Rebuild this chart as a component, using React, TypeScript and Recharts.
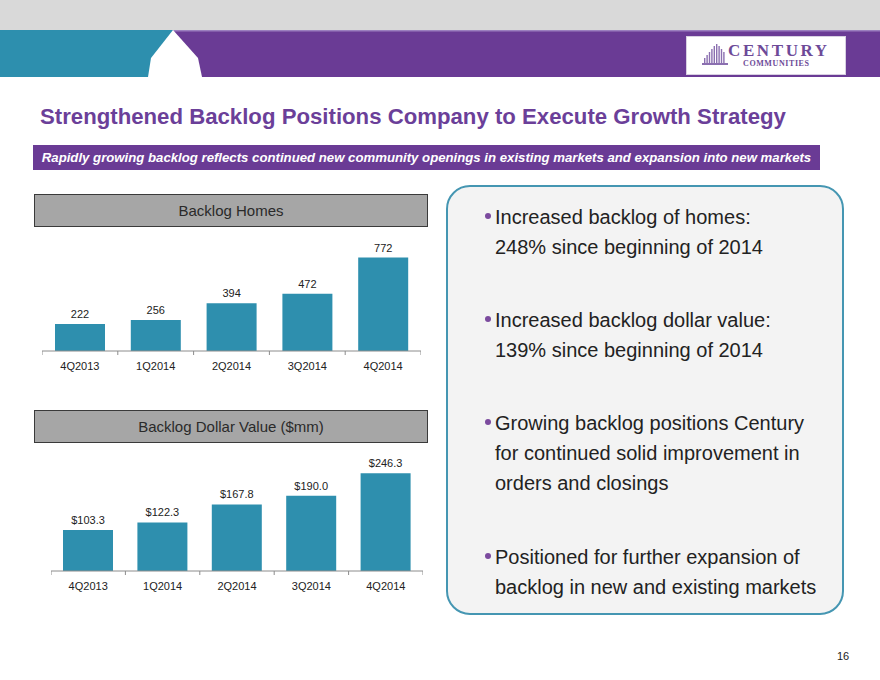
import React from "react";
import { BarChart, Bar, XAxis, YAxis, LabelList } from "recharts";

const quarters = ["4Q2013", "1Q2014", "2Q2014", "3Q2014", "4Q2014"];
const backlogHomes = [222, 256, 394, 472, 772];
const backlogDollars = [103.3, 122.3, 167.8, 190.0, 246.3];

const bullets = [
  ["Increased backlog of homes:", "248% since beginning of 2014"],
  ["Increased backlog dollar value:", "139% since beginning of 2014"],
  ["Growing backlog positions Century", "for continued solid improvement in", "orders and closings"],
  ["Positioned for further expansion of", "backlog in new and existing markets"],
];
const bulletTops = [202, 305, 408, 542];

const homesData = quarters.map((q, i) => ({ quarter: q, value: backlogHomes[i] }));
const dollarData = quarters.map((q, i) => ({ quarter: q, value: backlogDollars[i] }));

const PURPLE = "#6a3b95";
const TEAL = "#2e8fae";
const FONT = "'Liberation Sans', Arial, sans-serif";

// category axis with tick marks on the band edges instead of the centres
const EdgeTick = (props: any) => {
  const { x, y, payload, index, visibleTicksCount } = props;
  const half = payload.offset || 0;
  const last = index === visibleTicksCount - 1;
  return (
    <g>
      <line x1={x - half} x2={x - half} y1={y} y2={y + 4} stroke="#8c8c8c" />
      {last && <line x1={x + half} x2={x + half} y1={y} y2={y + 4} stroke="#8c8c8c" />}
      <text x={x} y={y + 19} textAnchor="middle" fontSize={11} fill="#222" fontFamily={FONT}>
        {payload.value}
      </text>
    </g>
  );
};

function HeaderBox({ top, label }: { top: number; label: string }) {
  return (
    <div
      style={{
        position: "absolute",
        left: 34,
        top,
        width: 392,
        height: 31,
        background: "#a6a6a6",
        border: "1.5px solid #3a3a3a",
        display: "flex",
        alignItems: "center",
        justifyContent: "center",
        fontSize: 15,
        color: "#2a2a2a",
      }}
    >
      {label}
    </div>
  );
}

function SmallBars({
  data,
  left,
  top,
  width,
  height,
  max,
  fmt,
}: {
  data: { quarter: string; value: number }[];
  left: number;
  top: number;
  width: number;
  height: number;
  max: number;
  fmt: (v: number) => string;
}) {
  return (
    <div style={{ position: "absolute", left, top }}>
      <BarChart width={width} height={height} data={data} margin={{ top: 12, right: 0, left: 0, bottom: 0 }}>
        <XAxis
          dataKey="quarter"
          height={30}
          tickSize={0}
          tickMargin={0}
          tickLine={false}
          axisLine={{ stroke: "#8c8c8c" }}
          tick={<EdgeTick />}
          interval={0}
        />
        <YAxis hide domain={[0, max]} />
        <Bar dataKey="value" fill={TEAL} barSize={50} isAnimationActive={false}>
          <LabelList
            dataKey="value"
            position="top"
            offset={6}
            formatter={(v: any) => fmt(Number(v))}
            style={{ fontSize: 11, fill: "#222", fontFamily: FONT }}
          />
        </Bar>
      </BarChart>
    </div>
  );
}

function Logo() {
  const bars = [6, 9, 12, 15, 18, 20, 18, 15, 12];
  return (
    <div
      style={{
        position: "absolute",
        left: 686,
        top: 36,
        width: 158,
        height: 37,
        background: "#fff",
        border: "1px solid #d8d0e2",
      }}
    >
      <svg width={26} height={22} style={{ position: "absolute", left: 15, top: 7 }}>
        {bars.map((h, i) => (
          <rect key={i} x={2 + i * 2.4} y={20 - h} width={1.4} height={h} fill="#8b6fb0" />
        ))}
        <rect x={0} y={19} width={26} height={2} fill="#8b6fb0" />
      </svg>
      <div
        style={{
          position: "absolute",
          left: 41,
          top: 4,
          fontFamily: "'Liberation Serif', 'DejaVu Serif', serif",
          fontWeight: 700,
          fontSize: 17,
          letterSpacing: 2.6,
          color: "#6d4a98",
        }}
      >
        CENTURY
      </div>
      <div
        style={{
          position: "absolute",
          left: 56,
          top: 22,
          fontFamily: "'Liberation Serif', 'DejaVu Serif', serif",
          fontWeight: 700,
          fontSize: 8,
          letterSpacing: 0.6,
          color: "#6d4a98",
        }}
      >
        COMMUNITIES
      </div>
    </div>
  );
}

export default function App() {
  return (
    <div
      style={{
        position: "absolute",
        left: 0,
        top: 0,
        width: 880,
        height: 680,
        background: "#fff",
        overflow: "hidden",
        fontFamily: FONT,
      }}
    >
      <svg width={880} height={80} style={{ position: "absolute", left: 0, top: 0 }}>
        <rect x={0} y={0} width={880} height={30} fill="#d9d9d9" />
        <rect x={0} y={30} width={880} height={47} fill={PURPLE} />
        <rect x={0} y={30} width={173} height={47} fill="#2d8fae" />
        <rect x={173} y={30} width={707} height={1.5} fill="#9b7fbf" />
        <polygon points="173,30 151,58 148,77 202,77 198,58" fill="#fff" />
      </svg>
      <Logo />

      <div
        style={{
          position: "absolute",
          left: 40,
          top: 104,
          fontSize: 22.2,
          fontWeight: 700,
          color: "#6b3f99",
          whiteSpace: "nowrap",
        }}
      >
        Strengthened Backlog Positions Company to Execute Growth Strategy
      </div>

      <div
        style={{
          position: "absolute",
          left: 33,
          top: 145,
          width: 787,
          height: 25,
          background: PURPLE,
          color: "#fff",
          fontStyle: "italic",
          fontWeight: 700,
          fontSize: 13.2,
          display: "flex",
          alignItems: "center",
          justifyContent: "center",
          whiteSpace: "nowrap",
        }}
      >
        Rapidly growing backlog reflects continued new community openings in existing markets and expansion into new markets
      </div>

      <HeaderBox top={194} label="Backlog Homes" />
      <SmallBars data={homesData} left={42} top={230} width={379} height={151} max={900} fmt={(v) => String(v)} />

      <HeaderBox top={410} label="Backlog Dollar Value ($mm)" />
      <SmallBars
        data={dollarData}
        left={51}
        top={440}
        width={372}
        height={161}
        max={300}
        fmt={(v) => `$${v.toFixed(1)}`}
      />

      <div
        style={{
          position: "absolute",
          left: 446,
          top: 185,
          width: 394,
          height: 426,
          background: "#f3f3f3",
          border: "2px solid #4596b2",
          borderRadius: 24,
        }}
      />
      {bullets.map((lines, i) => (
        <div key={i} style={{ position: "absolute", left: 495, top: bulletTops[i], fontSize: 20, lineHeight: "30px", color: "#222", whiteSpace: "nowrap" }}>
          <span
            style={{
              position: "absolute",
              left: -10,
              top: 11,
              width: 6,
              height: 6,
              borderRadius: 3,
              background: "#7b4a9e",
            }}
          />
          {lines.map((l, j) => (
            <div key={j}>{l}</div>
          ))}
        </div>
      ))}

      <div style={{ position: "absolute", left: 837, top: 650, fontSize: 11, color: "#222" }}>16</div>
    </div>
  );
}
